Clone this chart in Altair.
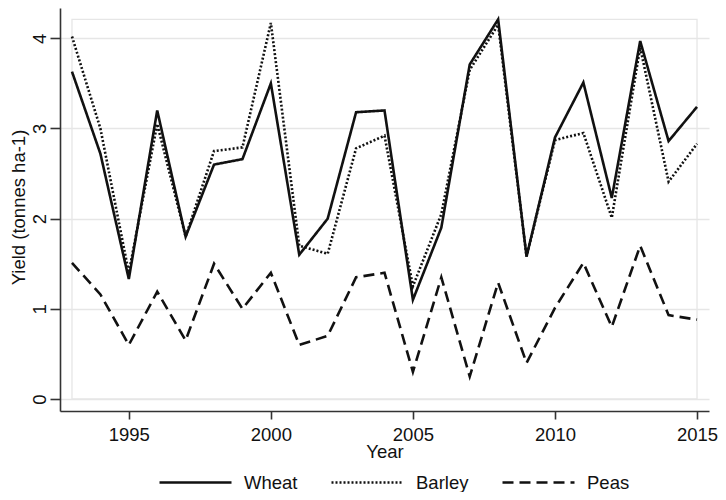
import altair as alt
import pandas as pd

years = list(range(1993, 2016))
wheat = [3.63, 2.72, 1.33, 3.20, 1.80, 2.60, 2.66, 3.50, 1.60, 2.00, 3.18, 3.20,
         1.10, 1.90, 3.71, 4.21, 1.58, 2.90, 3.51, 2.23, 3.97, 2.86, 3.24]
barley = [4.02, 3.00, 1.40, 3.05, 1.80, 2.75, 2.79, 4.17, 1.70, 1.61, 2.78, 2.92,
          1.25, 2.05, 3.65, 4.15, 1.58, 2.87, 2.95, 2.01, 3.90, 2.41, 2.83]
peas = [1.51, 1.16, 0.60, 1.19, 0.65, 1.50, 1.00, 1.40, 0.60, 0.70, 1.35, 1.40,
        0.30, 1.35, 0.25, 1.29, 0.40, 1.01, 1.51, 0.80, 1.70, 0.93, 0.88]
crops = ["Wheat", "Barley", "Peas"]
series = {"Wheat": wheat, "Barley": barley, "Peas": peas}

rows = []
for c in crops:
    for y, v in zip(years, series[c]):
        rows.append({"Year": y, "Yield": v, "Crop": c})
df = pd.DataFrame(rows)

FONT = "Liberation Sans"
FS = 18.5

xscale = alt.Scale(domain=[1992.578, 2015.422], nice=False, zero=False)
yscale = alt.Scale(domain=[-0.133, 4.336], nice=False, zero=False)

base = alt.Chart(df)

box = base.transform_aggregate(
    x0="min(Year)", x1="max(Year)", ytop="max(Yield)"
).transform_calculate(ybot="0").mark_rect(
    fillOpacity=0, stroke="#e6e6e6", strokeWidth=1.3
).encode(
    x=alt.X("x0:Q", scale=xscale),
    x2="x1:Q",
    y=alt.Y("ybot:Q", scale=yscale),
    y2="ytop:Q",
)

lines = base.mark_line(color="#111111", strokeWidth=2.6).encode(
    x=alt.X("Year:Q", scale=xscale,
            axis=alt.Axis(values=[1995, 2000, 2005, 2010, 2015], format="d",
                          grid=False, tickSize=8, labelPadding=21,
                          labelBaseline="alphabetic", labelFlush=False,
                          title="Year", titleY=46, titleBaseline="alphabetic")),
    y=alt.Y("Yield:Q", scale=yscale,
            axis=alt.Axis(values=[0, 1, 2, 3, 4], format="d", grid=True,
                          gridColor="#e6e6e6",
                          gridWidth=1.3, tickSize=10, labelPadding=5,
                          labelAngle=270, labelAlign="center",
                          labelBaseline="alphabetic",
                          title="Yield (tonnes ha-1)", titleX=-42, titleY=199,
                          titleBaseline="middle", titleAlign="center")),
    strokeDash=alt.StrokeDash(
        "Crop:N",
        scale=alt.Scale(domain=crops, range=[[1, 0], [2, 2], [11, 6]]),
        sort=crops,
        legend=alt.Legend(orient="none", legendX=98, legendY=437,
                          direction="horizontal", title=None,
                          symbolType="stroke", symbolSize=5184,
                          symbolStrokeWidth=2.4, symbolStrokeColor="#111111",
                          labelFontSize=FS, labelFont=FONT, labelColor="#111111",
                          labelOffset=11, columnPadding=28, padding=0),
    ),
    detail="Crop:N",
    order=alt.Order("Year:Q"),
)

chart = alt.layer(box, lines).properties(
    width=649, height=403,
    autosize=alt.AutoSizeParams(type="none"),
    padding={"left": 52, "top": 0, "right": 9, "bottom": 81},
    background="white",
).configure_view(stroke=None).configure_axis(
    labelFont=FONT, titleFont=FONT, labelFontSize=FS, titleFontSize=FS,
    labelColor="#111111", titleColor="#111111", titleFontWeight="normal",
    domainColor="#333333", tickColor="#333333", domainWidth=1.6, tickWidth=1.6,
)

chart.save("out.html", embed_options={"renderer": "svg", "actions": False})
